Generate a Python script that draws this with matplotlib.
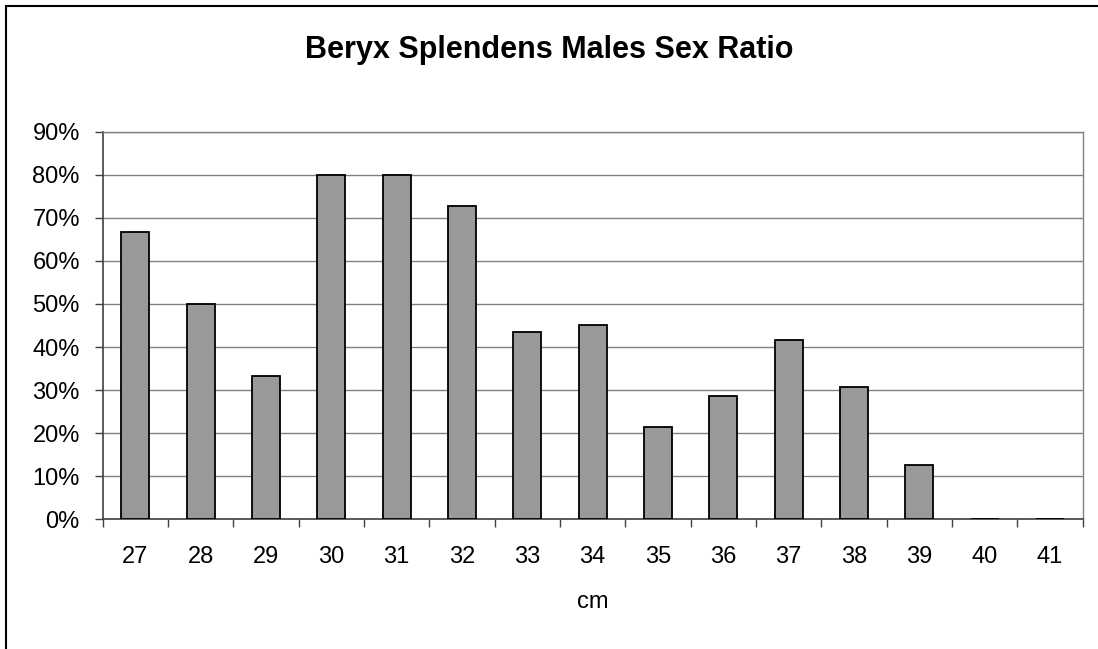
import matplotlib
matplotlib.use("Agg")
import matplotlib.pyplot as plt
from matplotlib.patches import Rectangle
from matplotlib.ticker import FuncFormatter, FixedLocator

categories = ["27", "28", "29", "30", "31", "32", "33", "34", "35", "36", "37", "38", "39", "40", "41"]
male_ratio = [66.7, 50.0, 33.3, 80.0, 80.0, 72.7, 43.5, 45.0, 21.4, 28.6, 41.7, 30.8, 12.5, 0.0, 0.0]
y_ticks = [0, 10, 20, 30, 40, 50, 60, 70, 80, 90]
title = "Beryx Splendens Males Sex Ratio"
x_label = "cm"

plt.rcParams['font.family'] = ['Liberation Sans', 'DejaVu Sans']

W, H = 1098, 649
fig = plt.figure(figsize=(W / 100, H / 100), dpi=100)
ax = fig.add_axes([102.7 / W, 1 - 519.3 / H, (1082.7 - 102.7) / W, (519.3 - 131.7) / H])

x = list(range(len(categories)))
ax.bar(x, male_ratio, width=0.43, color="#999999", edgecolor="black", linewidth=1.3, zorder=3)

ax.set_xlim(-0.5, len(categories) - 0.5)
ax.set_ylim(0, 90)
ax.set_yticks(y_ticks)
ax.yaxis.set_major_formatter(FuncFormatter(lambda v, p: f"{int(round(v))}%"))
ax.grid(axis="y", color="#808080", linewidth=1.0, zorder=0)

ax.set_xticks(x)
ax.set_xticklabels(categories)
ax.tick_params(axis="x", which="major", length=0, pad=19, labelsize=17)
ax.xaxis.set_minor_locator(FixedLocator([i - 0.5 for i in range(len(categories) + 1)]))
ax.tick_params(axis="x", which="minor", length=6, width=1, color="#404040", direction="out")
ax.tick_params(axis="y", length=6, width=1, color="#404040", direction="out", pad=10.5, labelsize=17)

for s in ["top", "right"]:
    ax.spines[s].set_color("#808080")
    ax.spines[s].set_linewidth(1.0)
for s in ["left", "bottom"]:
    ax.spines[s].set_color("#404040")
    ax.spines[s].set_linewidth(1.2)

ax.set_xlabel(x_label, fontsize=17, labelpad=17)

fig.text(0.5, 1 - 50 / H, title, ha="center", va="center", fontsize=22, fontweight="bold")

border = Rectangle((5.5 / W, -0.05), 1.2, 1 - 5.5 / H + 0.05, transform=fig.transFigure,
                   fill=False, edgecolor="black", linewidth=1.5, clip_on=False)
fig.patches.append(border)

fig.savefig("out.png", dpi=100)
